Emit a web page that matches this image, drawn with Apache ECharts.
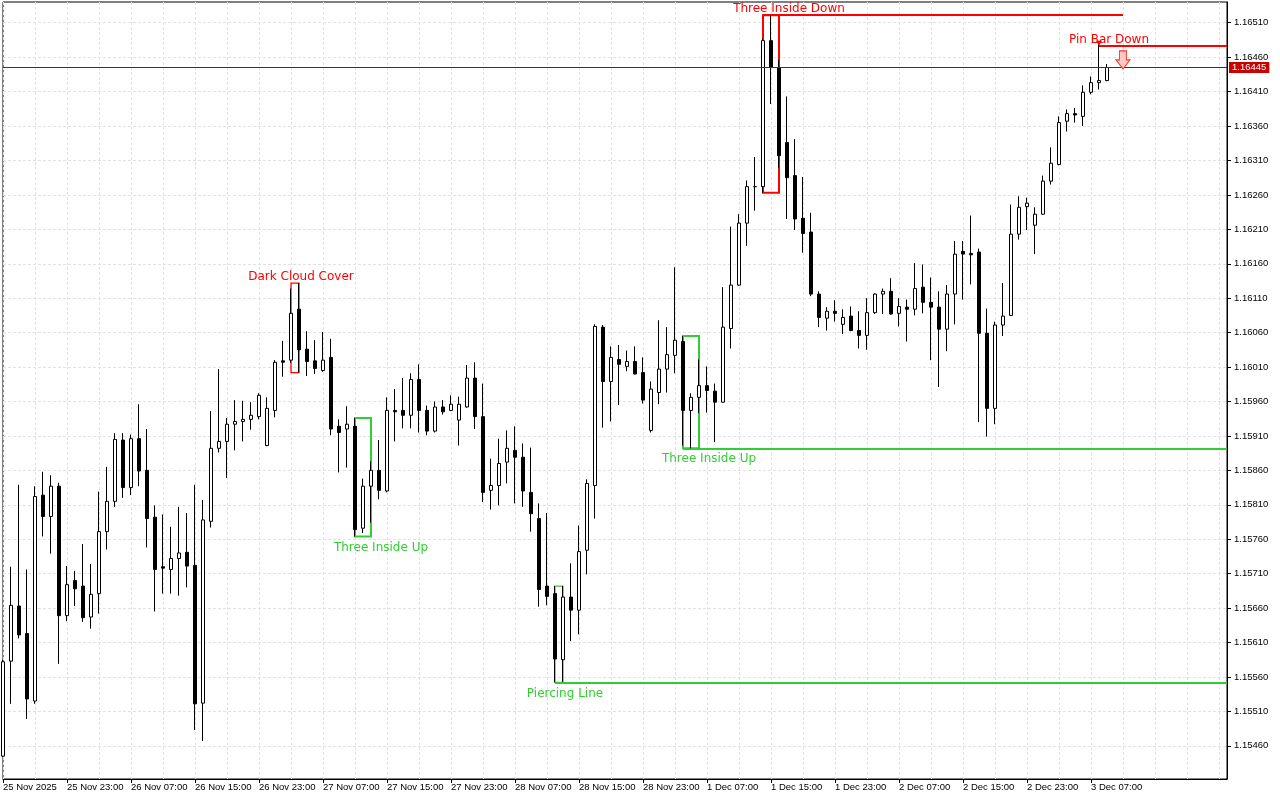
<!DOCTYPE html>
<html><head><meta charset="utf-8">
<script src="https://cdn.jsdelivr.net/npm/echarts@6/dist/echarts.min.js"></script>
<style>html,body{margin:0;padding:0;background:#fff}#c{width:1280px;height:800px}</style>
</head><body><div id="c"></div>
<script>
// ---- DATA ----
const tickLabels = ['25 Nov 2025','25 Nov 23:00','26 Nov 07:00','26 Nov 15:00','26 Nov 23:00','27 Nov 07:00','27 Nov 15:00','27 Nov 23:00','28 Nov 07:00','28 Nov 15:00','28 Nov 23:00','1 Dec 07:00','1 Dec 15:00','1 Dec 23:00','2 Dec 07:00','2 Dec 15:00','2 Dec 23:00','3 Dec 07:00'];
const priceTicks = [1.15460,1.15510,1.15560,1.15610,1.15660,1.15710,1.15760,1.15810,1.15860,1.15910,1.15960,1.16010,1.16060,1.16110,1.16160,1.16210,1.16260,1.16310,1.16360,1.16410,1.16460,1.16510];
const opens = [1.15445,1.15583,1.15663,1.15623,1.15525,1.15824,1.15793,1.15837,1.15649,1.15700,
1.15692,1.15647,1.15681,1.15771,1.15815,1.15904,1.15835,1.15906,1.15860,1.15792,
1.15720,1.15716,1.15732,1.15741,1.15722,1.15522,1.15786,1.15892,1.15902,1.15927,
1.15931,1.15934,1.15938,1.15896,1.15947,1.16019,1.16020,1.16094,1.16036,1.16019,
1.16005,1.16024,1.15924,1.15920,1.15924,1.15776,1.15837,1.15860,1.15830,1.15947,
1.15947,1.15940,1.15992,1.15947,1.15917,1.15952,1.15947,1.15933,1.15952,1.15994,
1.15938,1.15831,1.15838,1.15872,1.15889,1.15879,1.15828,1.15790,1.15692,1.15681,
1.15585,1.15676,1.15657,1.15744,1.15838,1.16068,1.15989,1.16021,1.16011,1.16018,
1.16002,1.15918,1.15973,1.16007,1.16027,1.16047,1.15947,1.15966,1.15983,1.15975,
1.15959,1.16066,1.16129,1.16219,1.16272,1.16272,1.16484,1.16445,1.16336,1.16288,
1.16226,1.16206,1.16116,1.16081,1.16091,1.16072,1.16084,1.16063,1.16056,1.16089,
1.16116,1.16120,1.16088,1.16097,1.16094,1.16126,1.16104,1.16097,1.16065,1.16116,
1.16178,1.16175,1.16177,1.16059,1.15950,1.16071,1.16085,1.16203,1.16243,1.16216,
1.16232,1.16280,1.16304,1.16367,1.16378,1.16374,1.16409,1.16423,1.16426];
const closes = [1.15582,1.15664,1.15621,1.15528,1.15822,1.15793,1.15837,1.15649,1.15694,1.15688,
1.15646,1.15680,1.15771,1.15815,1.15905,1.15835,1.15906,1.15859,1.15790,1.15716,
1.15718,1.15732,1.15740,1.15721,1.15521,1.15788,1.15892,1.15902,1.15927,1.15931,
1.15934,1.15940,1.15969,1.15950,1.16017,1.16017,1.16088,1.16035,1.16018,1.16008,
1.16020,1.15920,1.15915,1.15927,1.15774,1.15837,1.15860,1.15831,1.15947,1.15945,
1.15940,1.15992,1.15947,1.15917,1.15952,1.15945,1.15956,1.15956,1.15994,1.15938,
1.15828,1.15838,1.15870,1.15892,1.15879,1.15830,1.15797,1.15687,1.15677,1.15586,
1.15676,1.15657,1.15742,1.15841,1.16069,1.15989,1.16024,1.16014,1.16018,1.16000,
1.15962,1.15978,1.16007,1.16028,1.16049,1.15947,1.15966,1.15983,1.15976,1.15959,
1.16068,1.16129,1.16219,1.16272,1.16272,1.16484,1.16445,1.16317,1.16285,1.16225,
1.16204,1.16116,1.16082,1.16091,1.16088,1.16082,1.16063,1.16056,1.16089,1.16116,
1.16120,1.16087,1.16098,1.16094,1.16124,1.16104,1.16097,1.16065,1.16116,1.16174,
1.16174,1.16173,1.16059,1.15950,1.16071,1.16084,1.16203,1.16242,1.16248,1.16232,
1.16280,1.16306,1.16365,1.16378,1.16376,1.16409,1.16423,1.16426,1.16445];
const lows = [1.15444,1.15521,1.15616,1.15499,1.15521,1.15764,1.15739,1.15579,1.15641,1.15663,
1.15640,1.15630,1.15652,1.15745,1.15807,1.15820,1.15824,1.15837,1.15748,1.15655,
1.15681,1.15681,1.15678,1.15690,1.15483,1.15467,1.15777,1.15886,1.15849,1.15889,
1.15902,1.15919,1.15934,1.15895,1.15937,1.15996,1.16016,1.16002,1.15997,1.16000,
1.16003,1.15911,1.15857,1.15864,1.15764,1.15769,1.15784,1.15818,1.15828,1.15902,
1.15921,1.15921,1.15915,1.15911,1.15915,1.15941,1.15946,1.15896,1.15951,1.15920,
1.15814,1.15803,1.15809,1.15841,1.15812,1.15807,1.15771,1.15662,1.15664,1.15552,
1.15553,1.15612,1.15622,1.15709,1.15790,1.15922,1.15931,1.15955,1.16004,1.15999,
1.15957,1.15915,1.15956,1.15973,1.16001,1.15896,1.15892,1.15943,1.15944,1.15901,
1.15958,1.16037,1.16128,1.16186,1.16237,1.16263,1.16392,1.16299,1.16225,1.16209,
1.16176,1.16113,1.16068,1.16063,1.16076,1.16058,1.16062,1.16037,1.16035,1.16087,
1.16087,1.16086,1.16069,1.16047,1.16085,1.16088,1.16020,1.15981,1.16033,1.16072,
1.16108,1.16130,1.15930,1.15909,1.15927,1.16055,1.16084,1.16195,1.16209,1.16174,
1.16231,1.16275,1.16303,1.16352,1.16365,1.16360,1.16406,1.16413,1.16425];
const highs = [1.15585,1.15720,1.15839,1.15716,1.15837,1.15858,1.15853,1.15842,1.15721,1.15714,
1.15753,1.15724,1.15829,1.15865,1.15914,1.15914,1.15912,1.15956,1.15920,1.15809,
1.15796,1.15778,1.15807,1.15798,1.15839,1.15817,1.15946,1.16007,1.15936,1.15962,
1.15961,1.15959,1.15972,1.15966,1.16020,1.16048,1.16124,1.16132,1.16062,1.16049,
1.16061,1.16051,1.15934,1.15953,1.15936,1.15848,1.15873,1.15904,1.15966,1.15978,
1.15994,1.16001,1.16014,1.15954,1.15960,1.15962,1.15969,1.15967,1.16013,1.16017,
1.15986,1.15877,1.15906,1.15918,1.15924,1.15899,1.15893,1.15812,1.15798,1.15692,
1.15692,1.15725,1.15780,1.15847,1.16072,1.16071,1.16040,1.16042,1.16034,1.16040,
1.16024,1.15989,1.16078,1.16068,1.16155,1.16055,1.15972,1.16021,1.16011,1.15986,
1.16126,1.16214,1.16232,1.16281,1.16315,1.16487,1.16521,1.16456,1.16403,1.16341,
1.16286,1.16234,1.16120,1.16097,1.16107,1.16094,1.16098,1.16091,1.16110,1.16117,
1.16124,1.16139,1.16110,1.16108,1.16161,1.16159,1.16140,1.16120,1.16129,1.16193,
1.16193,1.16230,1.16182,1.16095,1.16076,1.16132,1.16246,1.16258,1.16256,1.16242,
1.16288,1.16329,1.16374,1.16384,1.16386,1.16419,1.16432,1.16483,1.16450];
const totalSlots = 154;           // bars + empty space to the right
const currentPrice = 1.16445;
// candlestick patterns
const patternNames = ['Dark Cloud Cover','Three Inside Up','Piercing Line','Three Inside Up','Three Inside Down'];
const patternKinds = ['bear','bull','bull','bull','bear'];
const patternFirst = [36,44,69,85,95];
const patternLast  = [37,46,70,87,97];
const patternHigh  = [1.16132,1.15936,1.15692,1.16055,1.16521];
const patternLow   = [1.16002,1.15764,1.15552,1.15892,1.16263];
const patternTextBar = [37,47,70,88,98];
const patternTextSide = ['top','bottom','bottom','bottom','top'];
// extended levels
const levelFrom  = [69,85,95,137];
const levelTo    = [153,153,140,153];
const levelPrice = [1.15552,1.15892,1.16521,1.16476];
const levelKinds = ['bull','bull','bear','bear'];
// pin bar
const pinName = 'Pin Bar Down';
const pinBar = 137, pinLevel = 1.16476, pinTextBar = 138, pinArrowBar = 140, pinArrowPrice = 1.16456;

// ---- CHART ----
const RED = '#ff0000', GREEN = '#32cd32';
const kindColor = k => k === 'bull' ? GREEN : RED;
const axFont = '"Liberation Sans", Arial, sans-serif';
const txFont = '"DejaVu Sans", Verdana, sans-serif';
const categories = Array.from({length: totalSlots}, (_, i) => String(i));
const candles = opens.map((o, i) => [o, closes[i], lows[i], highs[i]]);
const labelIdx = i => i % 8 === 0 && i / 8 < tickLabels.length;

const textPoint = (bar, price, text, side, color) => ({
  coord: [bar, price], symbol: 'rect', symbolSize: 1,
  itemStyle: {color: 'rgba(0,0,0,0)'},
  label: {show: true, formatter: text, position: side, distance: 1, offset: [2, 2.5],
    color: color, fontSize: 12, fontFamily: txFont, lineHeight: 14}
});

const chart = echarts.init(document.getElementById('c'), null, {renderer: 'canvas'});
chart.setOption({
  animation: false,
  backgroundColor: '#ffffff',
  grid: {left: 2, top: 2, right: 53, bottom: 21, show: true, borderColor: '#000', borderWidth: 1, backgroundColor: '#fff'},
  xAxis: {
    type: 'category', data: categories, boundaryGap: false,
    axisLine: {show: true, lineStyle: {color: '#000', width: 1}},
    axisTick: {show: true, interval: labelIdx, length: 4, lineStyle: {color: '#000'}},
    axisLabel: {show: true, interval: labelIdx, formatter: (v, i) => tickLabels[i / 8] || '',
      align: 'left', margin: 3, color: '#000', fontSize: 9.5, fontFamily: axFont},
    splitLine: {show: true, interval: 3, lineStyle: {color: '#e2e2e2', type: [3, 2], width: 1}}
  },
  yAxis: {
    type: 'value', position: 'right', min: 1.154118, max: 1.165401,
    axisLine: {show: true, lineStyle: {color: '#000'}},
    axisTick: {show: true, customValues: priceTicks, length: 4, lineStyle: {color: '#000'}},
    axisLabel: {show: true, customValues: priceTicks, formatter: v => v.toFixed(5), margin: 7,
      color: '#000', fontSize: 9.5, fontFamily: axFont},
    splitLine: {show: false}
  },
  series: [
    { // horizontal grid lines at price ticks
      type: 'line', data: [], silent: true, z: 1,
      markLine: {silent: true, z: 1, precision: 5, symbol: ['none', 'none'], label: {show: false},
        lineStyle: {color: '#e2e2e2', type: [3, 2], width: 1},
        emphasis: {disabled: true},
        data: priceTicks.map(v => ({yAxis: v}))}
    },
    { // pattern boxes and level lines
      type: 'line', data: [], silent: true, z: 2,
      markArea: {silent: true, z: 2,
        data: patternNames.map((n, i) => [
          {coord: [patternFirst[i], patternHigh[i]],
           itemStyle: {color: 'rgba(0,0,0,0)', borderColor: kindColor(patternKinds[i]),
             borderWidth: (patternLast[i] - patternFirst[i] >= 2) ? 2 : 1.3}},
          {coord: [patternLast[i], patternLow[i]]}
        ])},
      markLine: {silent: true, z: 2, precision: 5, symbol: ['none', 'none'], label: {show: false},
        emphasis: {disabled: true},
        data: levelPrice.map((p, i) => [
          {coord: [levelFrom[i], p], lineStyle: {color: kindColor(levelKinds[i]), width: 2, type: 'solid'}},
          {coord: [levelTo[i], p]}
        ])}
    },
    {
      type: 'candlestick', data: candles, z: 3, barWidth: 4, silent: true,
      itemStyle: {color: '#ffffff', color0: '#000000', borderColor: '#000000', borderColor0: '#000000', borderWidth: 1}
    },
    { // current price line + texts and markers
      type: 'line', data: [], silent: true, z: 6,
      markLine: {silent: true, z: 4, precision: 5, symbol: ['none', 'none'],
        emphasis: {disabled: true},
        lineStyle: {color: '#b00000', width: 1, type: 'solid'},
        label: {show: true, position: 'end', distance: 2, formatter: currentPrice.toFixed(5),
          color: '#fff', backgroundColor: '#c80000', padding: [1, 3, 0, 3],
          fontSize: 9.5, fontFamily: axFont},
        data: [{yAxis: currentPrice}]},
      markPoint: {silent: true, z: 6, animation: false,
        data: patternNames.map((n, i) => textPoint(patternTextBar[i],
            patternTextSide[i] === 'top' ? patternHigh[i] : patternLow[i], n, patternTextSide[i], kindColor(patternKinds[i])))
          .concat([
            textPoint(pinTextBar, pinLevel, pinName, 'top', RED),
            {coord: [pinBar, highs[pinBar]], symbol: 'triangle', symbolRotate: 180, symbolSize: [6, 5],
             symbolOffset: [0, 2], itemStyle: {color: RED}, label: {show: false}},
            {coord: [pinArrowBar, pinArrowPrice], symbol: 'path://M4,0L12,0L12,9L16,9L8,18L0,9L4,9Z',
             symbolSize: [14, 18], itemStyle: {color: '#ffc8c0', borderColor: '#ff3020', borderWidth: 1},
             label: {show: false}}
          ])}
    }
  ]
});
</script>
</body></html>
